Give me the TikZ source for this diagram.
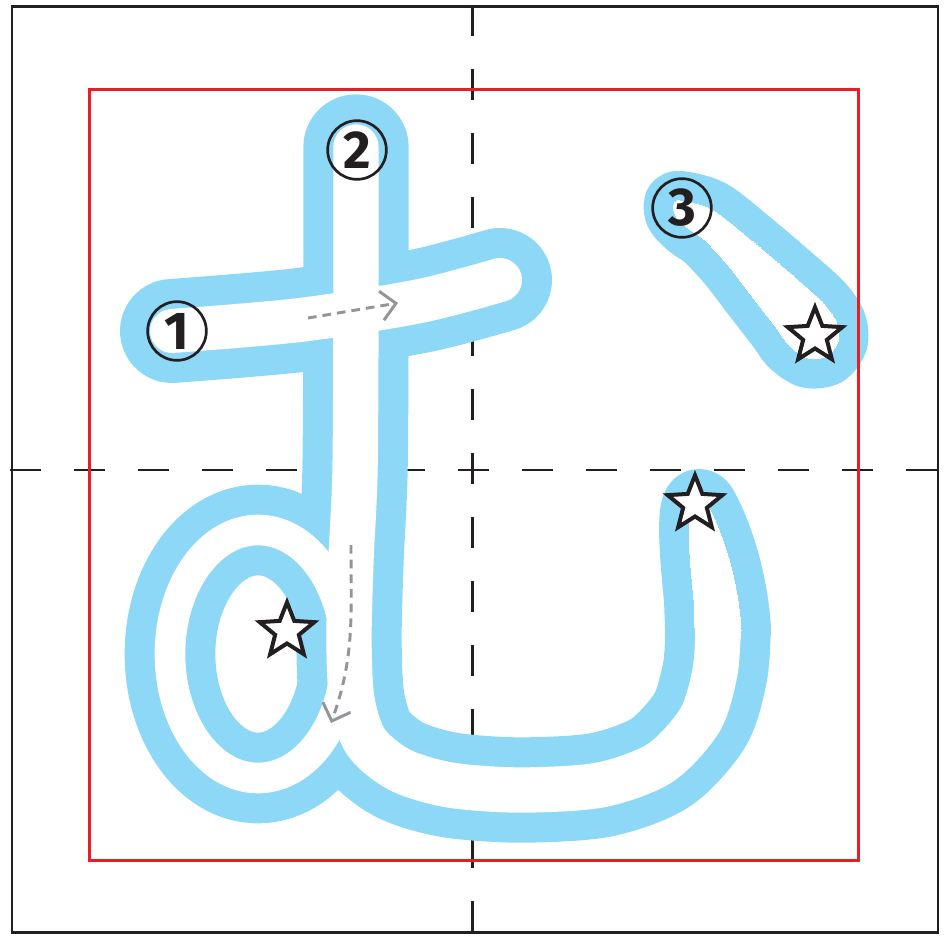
\documentclass[tikz,border=0pt]{standalone}
\usepackage{fontspec}
\usepackage{tikz}
\usetikzlibrary{arrows.meta}
\usetikzlibrary{shapes.geometric}
\newfontfamily\numfont{Fira Sans}
\definecolor{kanablue}{RGB}{141,216,246}
\definecolor{guidered}{RGB}{237,28,36}
\definecolor{guidegray}{RGB}{147,149,152}
\definecolor{inkblack}{RGB}{35,31,32}

\begin{document}
\begin{tikzpicture}[x=0.75pt,y=-0.75pt]
\tikzstyle{every node}=[inner sep=0pt]
\tikzstyle{stroke}=[line cap=round, line join=round]
\tikzstyle{grid}=[inkblack, line width=1.8pt, dash pattern=on 23.5pt off 24.5pt]
\tikzstyle{guide}=[guidegray, line width=2.2pt, dash pattern=on 6.5pt off 4.5pt, -{Straight Barb[length=11pt,width=22pt]}]
\tikzstyle{num}=[circle, draw=inkblack, line width=2pt, minimum size=44pt, text=inkblack, font=\numfont\bfseries\fontsize{40}{40}\selectfont]
\tikzstyle{starmark}=[star, star points=5, star point ratio=2.3, draw=inkblack, fill=white, line width=3pt, minimum size=43pt]
\useasboundingbox (0,0) rectangle (945,937);
% outer frame and centre lines
\draw[inkblack, line width=1.8pt] (12,6.5) rectangle (938,932.5);
\draw[grid] (472.5,5) -- (472.5,932.5);
\draw[grid] (10,470) -- (938,470);
% the kana: blue pass, then white pass
\foreach \col/\ex in {kanablue/45pt, white/0pt} {
  \draw[stroke, draw=\col, line width=33pt+\ex] plot[smooth] coordinates {(172,331) (300,320) (420,301) (500,280)};
  \draw[stroke, draw=\col, line width=34pt+\ex] plot[smooth] coordinates {(356,147) (356,300) (355,470) (351,560) (349,640) (352,700) (366,742) (400,770) (450,785) (520,790) (600,785) (660,763) (700,720) (715,672) (718,630)};
  \filldraw[stroke, draw=\col, fill=\col, line width=\ex] (696,655) -- (694,600) .. controls (690,560) and (687,522) .. (691,507) .. controls (694,496) and (704,497) .. (708,506) .. controls (720,528) and (738,575) .. (741,630) -- (738,655) -- cycle;
  \draw[stroke, draw=\col, line width=23pt+\ex] (258,654) ellipse [x radius=88, y radius=124];
  \filldraw[stroke, draw=\col, fill=\col, line width=\ex] plot[smooth cycle] coordinates {(677,201) (712,210) (753,242) (793,276) (822,302) (836,322) (838,341) (827,356) (808,358) (790,346) (776,327) (752,296) (729,266) (705,240) (688,228) (675,214)};
}
\draw[guidered, line width=1.6pt] (89.5,89.5) rectangle (858.5,860.5);
% stroke order arrows
\coordinate (g1s) at (308,318);
\coordinate (g1e) at (398,303);
\coordinate (g2s) at (351,545);
\coordinate (g2e) at (331,723);
\path (g1s) edge[guide] (g1e);
\path (g2s) edge[guide, out=-90, in=70] (g2e);
% numbers and stars
\node[num] (n1) at (177,331) {1};
\node[num] (n2) at (357,150) {2};
\node[num] (n3) at (682,208) {3};
\node[starmark] (s1) at (287,631) {};
\node[starmark] (s2) at (695,504) {};
\node[starmark] (s3) at (815,336) {};
\end{tikzpicture}
\end{document}
